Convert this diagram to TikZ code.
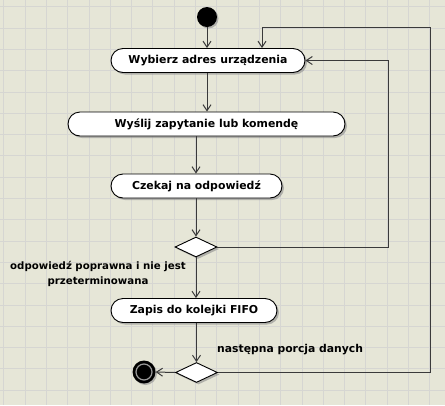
\documentclass[tikz,border=0pt]{standalone}
\usepackage{fontspec}
\setmainfont{DejaVu Sans}
\usetikzlibrary{shapes.misc,shapes.geometric,arrows.meta,shadows}
\definecolor{bg}{HTML}{E6E6D7}
\definecolor{gridc}{HTML}{D6D6D2}
\definecolor{linec}{HTML}{3A3A3A}
\tikzset{
  act/.style={rounded rectangle, draw=black, line width=0.9pt, fill=white,
    drop shadow={shadow xshift=2pt, shadow yshift=-2pt, fill=black!45, opacity=0.6},
    inner sep=0pt, minimum height=24pt, font=\bfseries\fontsize{10.9}{12}\selectfont},
  dec/.style={diamond, draw=black, line width=0.9pt, fill=white, aspect=2.1,
    drop shadow={shadow xshift=2pt, shadow yshift=-2pt, fill=black!45, opacity=0.6},
    inner sep=0pt, minimum width=42pt, minimum height=20pt},
  flow/.style={draw=linec, line width=1pt, -{Straight Barb[length=6pt,width=8pt]}},
  lbl/.style={font=\bfseries\fontsize{10.2}{15}\selectfont, align=center, inner sep=0pt}
}
\begin{document}
\begin{tikzpicture}[x=1pt,y=-1pt]
\fill[bg] (0,0) rectangle (445,405);
\useasboundingbox (0,0) rectangle (445,405);
\foreach \k in {0,...,20} {
  \draw[gridc, line width=0.8pt] ({3.7+21.3*\k},0) -- ({3.7+21.3*\k},405);
  \draw[gridc, line width=0.8pt] (0,{6.7+21.3*\k}) -- (445,{6.7+21.3*\k});
}
\node[circle, fill=black, minimum size=20pt, inner sep=0pt,
  drop shadow={shadow xshift=1.5pt, shadow yshift=-1.5pt, fill=black!45, opacity=0.6}] (start) at (207,17) {};
\node[act, minimum width=194pt] (b1) at (208,60.5) {Wybierz adres urządzenia};
\node[act, minimum width=277pt] (b2) at (206.5,124) {Wyślij zapytanie lub komendę};
\node[act, minimum width=171pt] (b3) at (196.5,186) {Czekaj na odpowiedź};
\node[dec] (d1) at (196,247) {};
\node[act, minimum width=166pt] (b4) at (194,310.5) {Zapis do kolejki FIFO};
\node[dec] (d2) at (196.5,372.5) {};
\node[circle, fill=black, minimum size=23pt, inner sep=0pt,
  drop shadow={shadow xshift=1.5pt, shadow yshift=-1.5pt, fill=black!45, opacity=0.6}] (end) at (144,372) {};
\node[circle, draw=black!40, line width=1.2pt, fill=black, minimum size=16pt, inner sep=0pt] (endin) at (end) {};
\node[lbl, anchor=center] (l1) at (98,273.5) {odpowiedź poprawna i nie jest\\przeterminowana};
\node[lbl, anchor=west, font=\bfseries\fontsize{10.8}{12}\selectfont] (l2) at (217,350) {następna porcja danych};
\coordinate (r1) at (388,247);
\coordinate (r2) at (430,372.5);
\coordinate (t2) at (262,27);
\draw[flow] (start) -- (start |- b1.north);
\draw[flow] (b1.south -| start) -- (start |- b2.north);
\draw[flow] (b2.south -| d1) -- (b3.north -| d1);
\draw[flow] (b3.south -| d1) -- (d1.north);
\draw[flow] (d1.south) -- (b4.north -| d1);
\draw[flow] (b4.south -| d2) -- (d2.north);
\draw[flow] (d2.west) -- (end.east);
\draw[flow] (d1.east) -- (r1) |- (b1.east);
\draw[flow] (d2.east) -- (r2) |- (t2) -- (t2 |- b1.north);
\end{tikzpicture}
\end{document}
